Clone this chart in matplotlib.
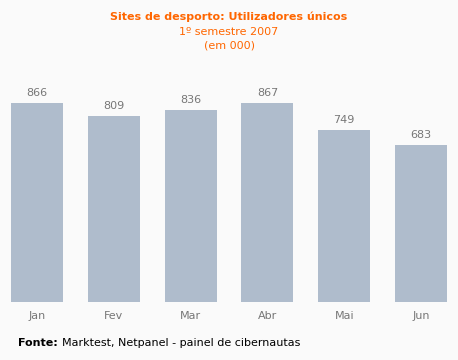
import matplotlib
matplotlib.use("Agg")
import matplotlib.pyplot as plt

months = ["Jan", "Fev", "Mar", "Abr", "Mai", "Jun"]
values = [866, 809, 836, 867, 749, 683]

W, H = 458, 360
bg = "#fafafa"
fig = plt.figure(figsize=(W/100, H/100), dpi=100, facecolor=bg)
ax = fig.add_axes([0, (H-302)/H, 1, 242/H])
ax.set_facecolor(bg)
x = list(range(len(months)))
ax.bar(x, values, width=0.675, color="#afbccc")
ax.set_xlim(-0.482, 5.482)
ax.set_ylim(0, 242/0.2298)
for xi, v in zip(x, values):
    ax.text(xi, v + 22, str(v), ha="center", va="bottom", fontsize=8, color="#777777")
    ax.text(xi, -14/0.2298, months[xi], ha="center", va="center", fontsize=8, color="#777777")
ax.axis("off")

fig.text(0.5, 1 - 17/H, "Sites de desporto: Utilizadores únicos", ha="center", va="center",
         fontsize=8, fontweight="bold", color="#ff6600")
fig.text(0.5, 1 - 32/H, "1º semestre 2007", ha="center", va="center", fontsize=8, color="#ff6600")
fig.text(0.5, 1 - 45/H, "(em 000)", ha="center", va="center", fontsize=8, color="#ff6600")

t1 = fig.text(18/W, 1 - 343/H, "Fonte:", ha="left", va="center", fontsize=8, fontweight="bold", color="#000000")
fig.canvas.draw()
bb = t1.get_window_extent()
fig.text((bb.x1 + 4)/W, 1 - 343/H, "Marktest, Netpanel - painel de cibernautas", ha="left", va="center",
         fontsize=8, color="#000000")

fig.savefig("out.png", dpi=100, facecolor=bg)
